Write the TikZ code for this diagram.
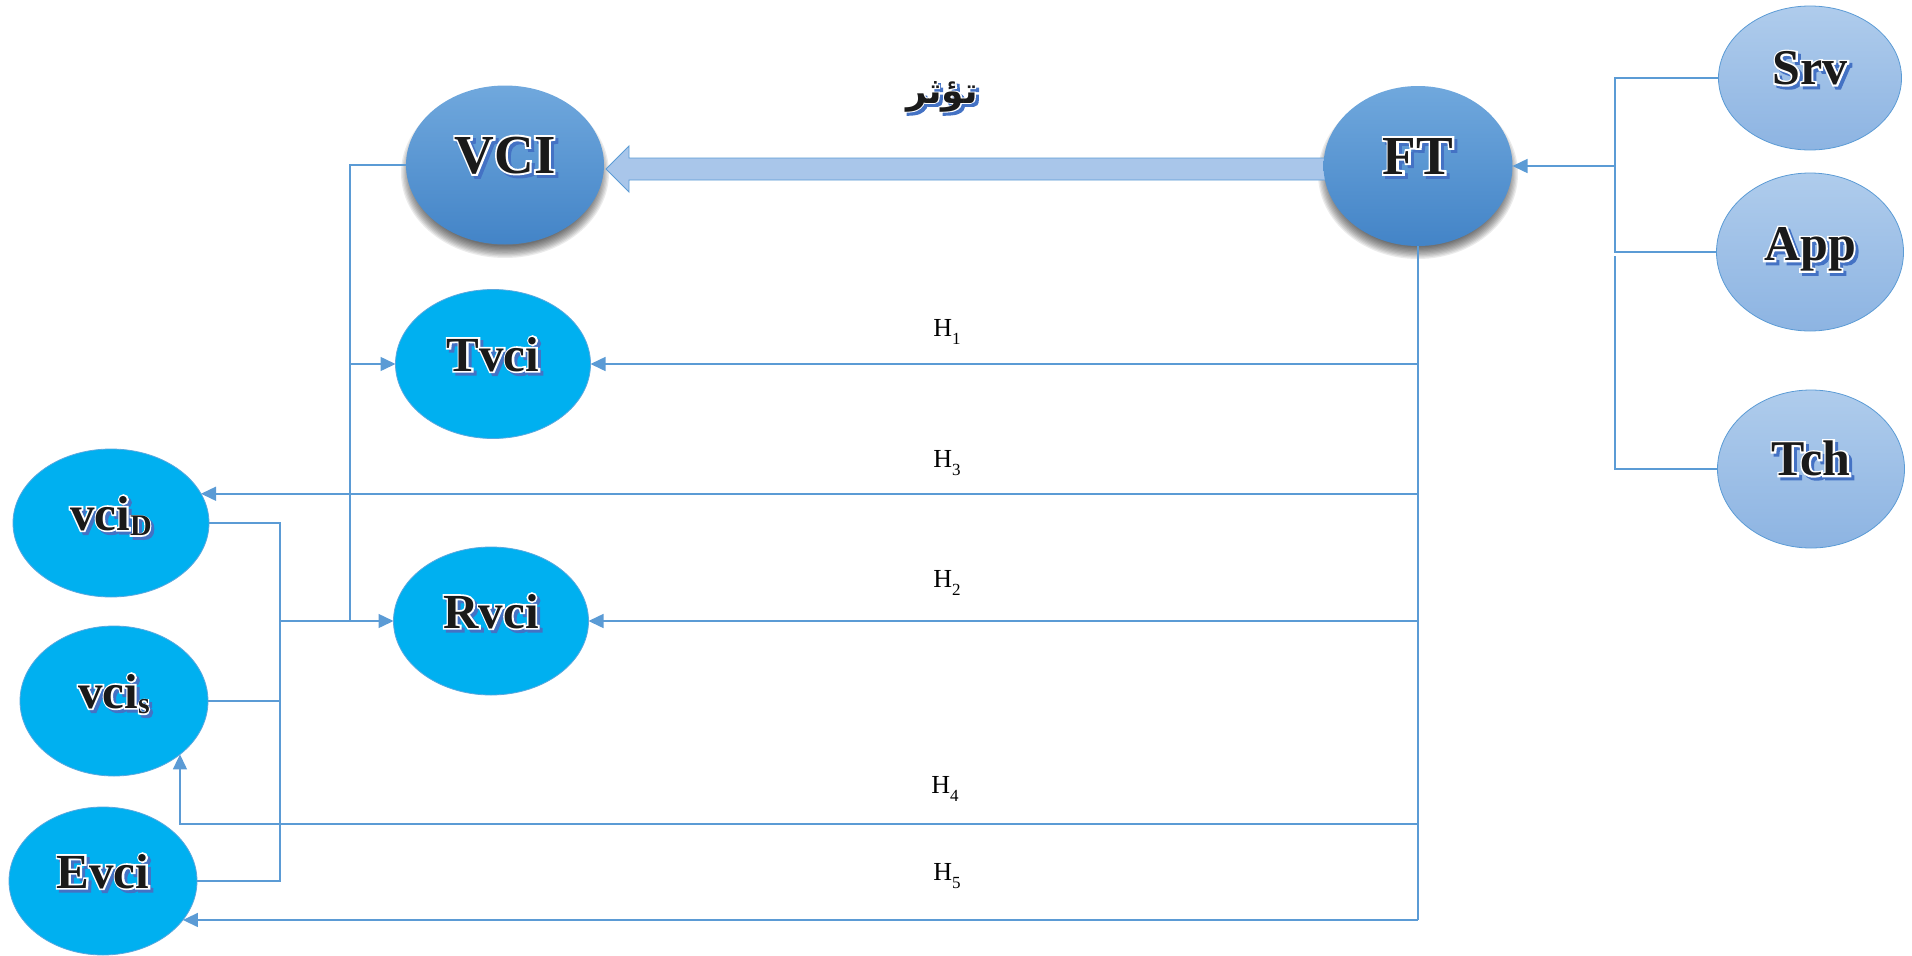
\documentclass[tikz,border=0pt]{standalone}
\usepackage{fontspec}
\setmainfont{Liberation Serif}
\newfontfamily\ringfamily[FakeBold=7]{Liberation Serif}
\newfontfamily\arabicfont[Script=Arabic]{DejaVu Sans}
\newfontfamily\arabicring[Script=Arabic,FakeBold=5]{DejaVu Sans}
\TeXXeTstate=1
\usetikzlibrary{shapes.geometric,arrows.meta,calc,backgrounds}

\definecolor{linkblue}{HTML}{5B9BD5}
\definecolor{cyanfill}{HTML}{00B0F0}
\definecolor{cyanedge}{HTML}{5AA7DE}
\definecolor{deeptop}{HTML}{70A8DD}
\definecolor{deepbot}{HTML}{4384C7}
\definecolor{paletop}{HTML}{AFCCEC}
\definecolor{palebot}{HTML}{8DB4E2}
\definecolor{arrowfill}{HTML}{A9C6EA}
\definecolor{fxink}{HTML}{1A1A1A}
\definecolor{fxshadow}{HTML}{4472C4}

% bold label with white outline and blue drop shadow
\newcommand\fx[2][\ringfamily]{\leavevmode
  \rlap{\kern3pt\raisebox{-3pt}{#1\color{fxshadow}#2}}%
  \rlap{#1\color{white}#2}%
  {\color{fxink}#2}}
\newcommand\lowsub[1]{\raisebox{-0.12em}{\fontsize{30}{30}\selectfont #1}}
\newcommand\hsub[1]{\raisebox{-0.28em}{\fontsize{17}{17}\selectfont #1}}

\tikzset{
  blob/.style={ellipse, inner sep=0pt, outer sep=0pt, text height=14pt, text depth=0pt,
    font=\fontsize{49}{56}\selectfont\bfseries},
  cyanblob/.style={blob, fill=cyanfill, draw=cyanedge, line width=0.8pt},
  deepblob/.style={blob, top color=deeptop, bottom color=deepbot, text height=16pt,
    font=\fontsize{55}{62}\selectfont\bfseries},
  paleblob/.style={blob, top color=paletop, bottom color=palebot, draw=linkblue,
    line width=0.8pt, text height=13pt, font=\fontsize{50}{58}\selectfont\bfseries},
  conn/.style={draw=linkblue, line width=1.5pt},
  arrowed/.style={-{Triangle[length=15pt,width=14pt]}},
  hlabel/.style={font=\fontsize{26}{30}\selectfont, inner sep=0pt},
  bigarrow/.style={fill=arrowfill, draw=linkblue, line width=0.9pt, line join=miter},
}

\begin{document}
\begin{tikzpicture}[x=1pt,y=-1pt]
\useasboundingbox (0,0) rectangle (1912,956);

% main factors
\node[deepblob, minimum width=198pt, minimum height=159pt] (VCI) at (505,165) {\fx{VCI}};
\node[deepblob, minimum width=189pt, minimum height=160pt] (FT) at (1418,166) {\fx{FT}};

% contributing factors
\node[paleblob, minimum width=183pt, minimum height=144pt] (Srv) at (1810,78) {\fx{Srv}};
\node[paleblob, minimum width=187pt, minimum height=158pt, text height=17pt] (App) at (1810,252) {\fx{App}};
\node[paleblob, minimum width=187pt, minimum height=158pt] (Tch) at (1811,469) {\fx{Tch}};

% components
\node[cyanblob, minimum width=195pt, minimum height=149pt] (Tvci) at (493,364) {\fx{Tvci}};
\node[cyanblob, minimum width=195pt, minimum height=148pt] (Rvci) at (491,621) {\fx{Rvci}};
\node[cyanblob, minimum width=196pt, minimum height=148pt] (vciD) at (111,523) {\fx{vci\lowsub{D}}};
\node[cyanblob, minimum width=188pt, minimum height=150pt] (vcis) at (114,701) {\fx{vci\lowsub{s}}};
\node[cyanblob, minimum width=188pt, minimum height=148pt] (Evci) at (103,881) {\fx{Evci}};

% labels
\node[font=\fontsize{36}{42}\selectfont\arabicfont\bfseries, inner sep=0pt] (effect) at (942,98)
  {\fx[\arabicring]{\beginR تؤثر\endR}};
\node[hlabel] (h1) at (947,332) {H\hsub{1}};
\node[hlabel] (h3) at (947,463) {H\hsub{3}};
\node[hlabel] (h2) at (947,583) {H\hsub{2}};
\node[hlabel] (h4) at (945,789) {H\hsub{4}};
\node[hlabel] (h5) at (947,876) {H\hsub{5}};

% soft shadows and the broad arrow behind the nodes
\begin{scope}[on background layer]
  \foreach \n/\a/\b in {VCI/99/80, FT/95/80} {
    \foreach \k in {0,...,9} {
      \pgfmathsetmacro\ra{\a+5-\k*1.3}
      \pgfmathsetmacro\rb{\b+5-\k*1.3}
      \fill[black, opacity=0.08] ($(\n.center)+(0,8)$) ellipse [x radius=\ra pt, y radius=\rb pt];
    }
  }
  \coordinate (tipA) at ($(VCI.east)+(2,4)$);
  \draw[bigarrow] (tipA) -- ++(23,-23) -- ++(0,12) -- ($(FT.west)+(20,-8)$)
    -- ($(FT.west)+(20,14)$) -- ($(tipA)+(23,11)$) -- ++(0,12) -- cycle;
\end{scope}

% inputs of FT
\coordinate (brk) at (1615,0);
\draw[conn] (Srv.west) -- (Srv.west -| brk) -- (App.west -| brk) -- (App.west);
\draw[conn] ($(App.west -| brk)+(0,4)$) -- (Tch.west -| brk) -- (Tch.west);
\draw[conn, arrowed] (FT.east -| brk) -- (FT.east);

% FT distribution bus
\coordinate (r4) at (0,824);
\draw[conn] (FT.south) -- (FT.south |- Evci.-26);
\draw[conn, arrowed] (FT.south |- Tvci.east) -- (Tvci.east);
\draw[conn, arrowed] (FT.south |- vciD.18) -- (vciD.18);
\draw[conn, arrowed] (FT.south |- Rvci.east) -- (Rvci.east);
\draw[conn, arrowed] (FT.south |- r4) -| (vcis.-39);
\draw[conn, arrowed] (FT.south |- Evci.-26) -- (Evci.-26);

% VCI feeds Tvci and Rvci
\coordinate (jtop) at (350,165);
\draw[conn, arrowed] (VCI.west) -- (VCI.west -| jtop) |- (Rvci.west);
\draw[conn, arrowed] (Tvci.west -| jtop) -- (Tvci.west);

% vciD, vcis and Evci join into Rvci
\coordinate (lbus) at (280,0);
\draw[conn] (vciD.east) -| (lbus |- Evci.east) -- (Evci.east);
\draw[conn] (vcis.east) -- (vcis.east -| lbus);
\draw[conn] (lbus |- Rvci.west) -- (jtop |- Rvci.west);
\end{tikzpicture}
\end{document}
